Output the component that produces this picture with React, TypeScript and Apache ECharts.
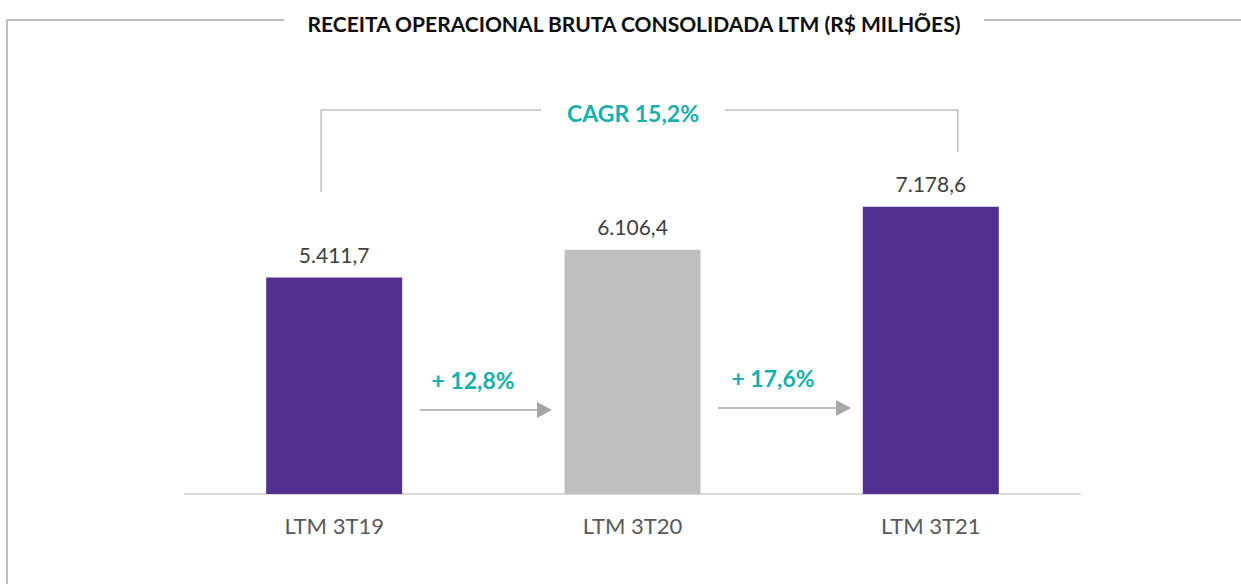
import React, { useEffect, useRef } from "react";
import * as echarts from "echarts";

const categories = ["LTM 3T19", "LTM 3T20", "LTM 3T21"];
const values = [5411.7, 6106.4, 7178.6];
const valueLabels = ["5.411,7", "6.106,4", "7.178,6"];
const barColors = ["#52308F", "#BFBFBF", "#52308F"];
const growthLabels = ["+ 12,8%", "+ 17,6%"];
const cagrLabel = "CAGR 15,2%";
const titleText = "RECEITA OPERACIONAL BRUTA CONSOLIDADA LTM (R$ MILHÕES)";

const FONT = "Lato, 'Open Sans', sans-serif";
const TEAL = "#17AFAB";
const LINE_GRAY = "#BFBFBF";
const ARROW_GRAY = "#A6A6A6";

export default function App() {
  const ref = useRef<HTMLDivElement>(null);
  useEffect(() => {
    document.body.style.margin = "0";
    const chart = echarts.init(ref.current!, null, { renderer: "svg" });
    const option: any = {
      animation: false,
      backgroundColor: "#FFFFFF",
      grid: { left: 185, right: 161, top: 94, bottom: 90, containLabel: false },
      xAxis: {
        type: "category",
        data: categories,
        axisLine: { lineStyle: { color: "#D9D9D9", width: 2 } },
        axisTick: { show: false },
        axisLabel: { color: "#595959", fontSize: 22, fontFamily: FONT, margin: 20 },
      },
      yAxis: { type: "value", min: 0, max: 10000, show: false, splitLine: { show: false } },
      series: [
        {
          type: "bar",
          barWidth: 136,
          data: values.map((v, i) => ({ value: v, itemStyle: { color: barColors[i] } })),
          label: {
            show: true,
            position: "top",
            distance: 13,
            color: "#404040",
            fontSize: 21,
            fontFamily: FONT,
            formatter: (p: any) => valueLabels[p.dataIndex],
          },
        },
      ],
      graphic: [],
    };
    chart.setOption(option);

    const px = (i: number, v: number) => chart.convertToPixel({ seriesIndex: 0 }, [i, v]) as number[];
    const g: any[] = [];
    // frame
    g.push({ type: "line", shape: { x1: 7, y1: 20, x2: 284, y2: 20 }, style: { stroke: LINE_GRAY, lineWidth: 2 } });
    g.push({ type: "line", shape: { x1: 984, y1: 20, x2: 1241, y2: 20 }, style: { stroke: LINE_GRAY, lineWidth: 2 } });
    g.push({ type: "line", shape: { x1: 7, y1: 19, x2: 7, y2: 584 }, style: { stroke: LINE_GRAY, lineWidth: 2 } });
    g.push({
      type: "text", x: 634, y: 23,
      style: { text: titleText, fill: "#0D0D0D", font: `bold 21px ${FONT}`, align: "center", verticalAlign: "middle" },
    });
    // CAGR bracket
    const p0 = px(0, values[0]);
    const p2 = px(2, values[2]);
    const bracketY = 110;
    g.push({
      type: "polyline",
      shape: { points: [[p0[0] - 13, 192], [p0[0] - 13, bracketY], [541, bracketY]] },
      style: { stroke: LINE_GRAY, lineWidth: 1.5, fill: "none" },
    });
    g.push({
      type: "polyline",
      shape: { points: [[725, bracketY], [p2[0] + 27, bracketY], [p2[0] + 27, 152]] },
      style: { stroke: LINE_GRAY, lineWidth: 1.5, fill: "none" },
    });
    g.push({
      type: "text", x: 633, y: 113,
      style: { text: cagrLabel, fill: TEAL, font: `bold 23px ${FONT}`, align: "center", verticalAlign: "middle" },
    });
    // growth arrows
    const arrows = [
      { x1: 420, x2: 552, y: 410, lx: 473, ly: 380 },
      { x1: 718, x2: 851, y: 408, lx: 773, ly: 378 },
    ];
    arrows.forEach((a, i) => {
      g.push({ type: "line", shape: { x1: a.x1, y1: a.y, x2: a.x2 - 14, y2: a.y }, style: { stroke: ARROW_GRAY, lineWidth: 1.5 } });
      g.push({
        type: "polygon",
        shape: { points: [[a.x2 - 15, a.y - 8], [a.x2, a.y], [a.x2 - 15, a.y + 8]] },
        style: { fill: ARROW_GRAY },
      });
      g.push({
        type: "text", x: a.lx, y: a.ly,
        style: { text: growthLabels[i], fill: TEAL, font: `bold 23px ${FONT}`, align: "center", verticalAlign: "middle" },
      });
    });
    chart.setOption({ graphic: g });
    return () => chart.dispose();
  }, []);
  return <div ref={ref} style={{ width: 1241, height: 584 }} />;
}
